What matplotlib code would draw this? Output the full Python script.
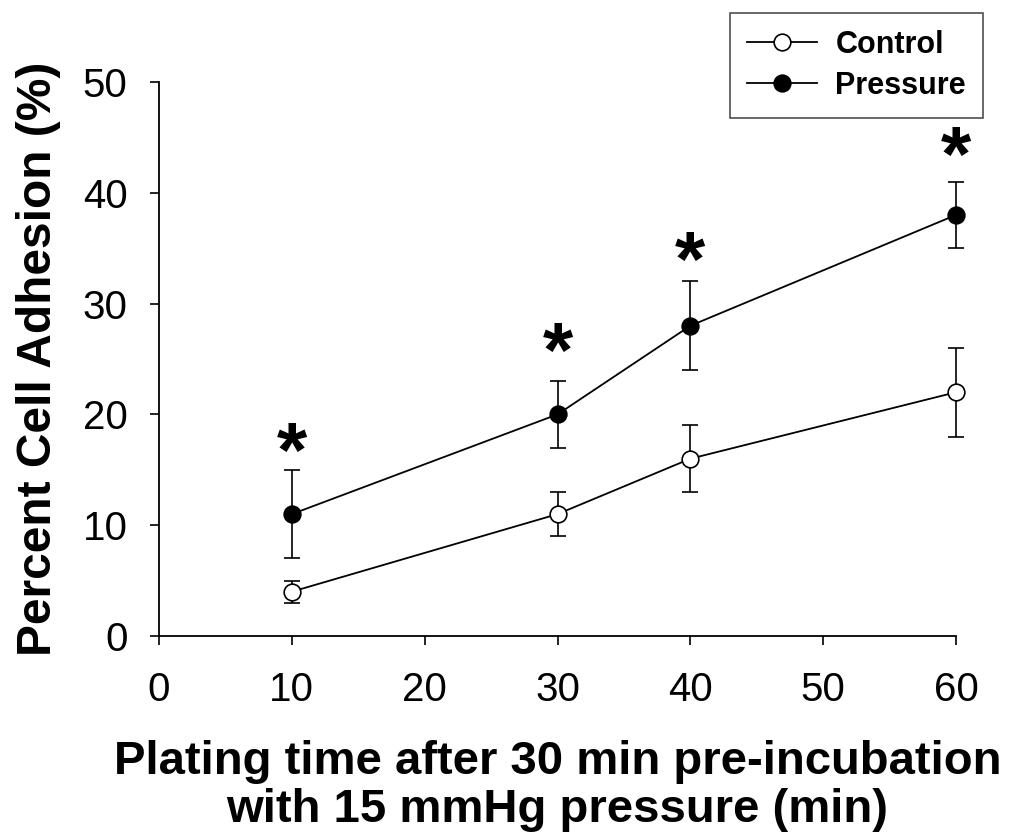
import matplotlib
matplotlib.use("Agg")
import matplotlib.pyplot as plt
from matplotlib.lines import Line2D

plt.rcParams['font.family'] = ['Liberation Sans', 'DejaVu Sans']

times = [10, 30, 40, 60]
control = [4, 11, 16, 22]
control_err = [1, 2, 3, 4]
pressure = [11, 20, 28, 38]
pressure_err = [4, 3, 4, 3]
star_y = [17.6, 26.6, 34.8, 44.3]
xticks = [0, 10, 20, 30, 40, 50, 60]
yticks = [0, 10, 20, 30, 40, 50]

fig = plt.figure(figsize=(10.17, 8.38), dpi=100)
ax = fig.add_axes([159/1017, 1-636/838, (956-159)/1017, (636-82)/838])

for vals, errs, face in [(control, control_err, 'white'), (pressure, pressure_err, 'black')]:
    cont = ax.errorbar(times, vals, yerr=errs, color='black', lw=1.3,
                       marker='o', ms=12, mfc=face, mec='black', mew=1.2,
                       ecolor='black', elinewidth=1.2, capsize=6, capthick=1.2, zorder=3)
    for art in cont.lines[0:1] + tuple(cont.lines[1]) + tuple(cont.lines[2]):
        art.set_clip_on(False)

star_fs = 56
for t, sy in zip(times, star_y):
    ax.annotate('*', xy=(t, sy), xytext=(0, -0.46 * star_fs), textcoords='offset points',
                ha='center', va='baseline', fontsize=star_fs, fontweight='bold')

ax.set_xlim(0, 60)
ax.set_ylim(0, 50)
ax.set_xticks(xticks)
ax.set_yticks(yticks)
ax.tick_params(direction='out', length=6.5, width=1.2, labelsize=29)
ax.tick_params(axis='x', pad=19)
ax.tick_params(axis='y', pad=16)
for s in ['top', 'right']:
    ax.spines[s].set_visible(False)
for s in ['left', 'bottom']:
    ax.spines[s].set_linewidth(1.3)

ax.set_xlabel('Plating time after 30 min pre-incubation\nwith 15 mmHg pressure (min)',
              fontsize=34, fontweight='bold', labelpad=22, linespacing=1.12)
ax.set_ylabel('Percent Cell Adhesion (%)', fontsize=34.5, fontweight='bold', labelpad=16)

handles = [
    Line2D([], [], color='black', lw=1.3, marker='o', ms=12, mfc='white', mec='black', mew=1.2),
    Line2D([], [], color='black', lw=1.3, marker='o', ms=12, mfc='black', mec='black', mew=1.2),
]
leg = fig.legend(handles, ['Control', 'Pressure'], loc='upper right',
                 bbox_to_anchor=(983/1017, 1-13/838), frameon=True, fancybox=False,
                 edgecolor='#222222', prop={'weight': 'bold', 'size': 22},
                 handlelength=2.3, labelspacing=0.34, borderpad=0.56, handletextpad=0.6,
                 borderaxespad=0)
leg.get_frame().set_linewidth(1.2)

fig.savefig('out.png', dpi=100, facecolor='white')
